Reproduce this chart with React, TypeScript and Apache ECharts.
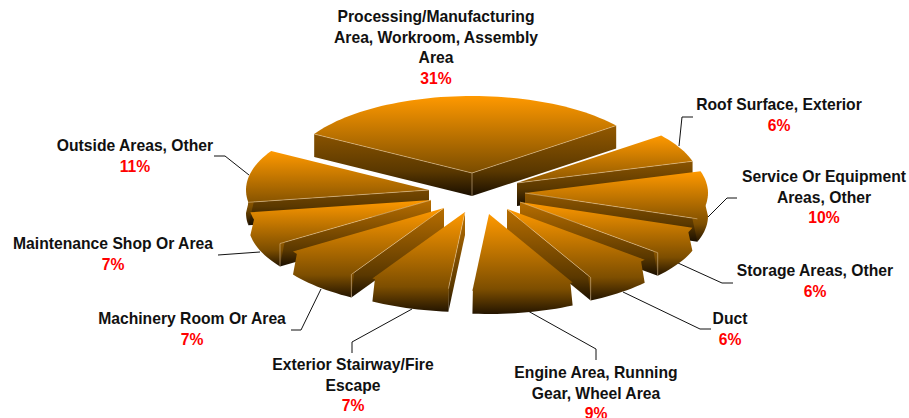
import React, { useEffect, useRef } from "react";
import * as echarts from "echarts";

const categories = [
  "Processing/Manufacturing\nArea, Workroom, Assembly\nArea",
  "Roof Surface, Exterior",
  "Service Or Equipment\nAreas, Other",
  "Storage Areas, Other",
  "Duct",
  "Engine Area, Running\nGear, Wheel Area",
  "Exterior Stairway/Fire\nEscape",
  "Machinery Room Or Area",
  "Maintenance Shop Or Area",
  "Outside Areas, Other",
];
const shares = [31, 6, 10, 6, 6, 9, 7, 7, 7, 11];

// Layout, kept apart from the data
const START_DEG = -59.6;
const RX = 183;
const RY = 77;
const DEPTH = 23;
const apexes = [
  [472, 173], [517, 183], [525, 193], [520, 202], [507, 209],
  [489, 214], [465, 212], [444, 208], [431, 200], [429, 190],
];
const drawOrder = [0, 9, 1, 2, 8, 3, 7, 4, 6, 5];
const labelAnchors = [
  [436, 16.5], [779, 104.5], [824, 176.5], [815, 270.5], [730, 318.5],
  [596, 372.5], [353, 364.5], [192, 318.5], [113, 243.5], [135, 145.5],
];
const LINE_H = 20.6;
const leaders = [
  null,
  [[693, 117], [682, 117], [679, 146]],
  [[737, 198], [727, 198], [708, 217]],
  [[733, 283], [722, 283], [678, 263]],
  [[711, 329], [700, 329], [623, 292]],
  [[596, 360], [596, 349], [528, 311]],
  [[352, 353], [352, 342], [412, 309]],
  [[291, 330], [301, 330], [321, 289]],
  [[218, 255], [260, 252]],
  [[214, 156], [225, 156], [249, 175]],
];

const FONT = '"Liberation Sans", Arial, sans-serif';
const rad = (d: number) => (d * Math.PI) / 180;
const total = shares.reduce((a, b) => a + b, 0);
const startAngles: number[] = [];
shares.reduce((acc, v, i) => {
  startAngles[i] = acc;
  return acc + (v / total) * 360;
}, START_DEG);

function grad(top: number, bottom: number, k: number) {
  const c = (r: number, g: number, b: number) =>
    `rgb(${Math.round(r * k)},${Math.round(g * k)},${Math.round(b * k)})`;
  return {
    type: "linear",
    x: 0,
    y: top,
    x2: 0,
    y2: bottom,
    global: true,
    colorStops: [
      { offset: 0, color: c(255, 153, 0) },
      { offset: 0.75, color: c(125, 78, 0) },
      { offset: 1, color: c(36, 21, 0) },
    ],
  };
}

function renderSlice(_p: any, api: any) {
  const i = api.value(0);
  const [ax, ay] = apexes[i];
  const a0 = startAngles[i];
  const a1 = a0 + (shares[i] / total) * 360;
  const pt = (a: number, dy = 0) => [ax + RX * Math.sin(rad(a)), ay - RY * Math.cos(rad(a)) + dy];
  const arc = (from: number, to: number, dy = 0) => {
    const out: number[][] = [];
    const n = Math.max(2, Math.ceil(Math.abs(to - from) / 2));
    for (let j = 0; j <= n; j++) out.push(pt(from + ((to - from) * j) / n, dy));
    return out;
  };
  const face = [[ax, ay], ...arc(a0, a1)];
  const ys: number[] = face.map((p) => p[1]);
  const top = Math.min(...ys);
  const bottom = Math.max(...ys) + DEPTH;
  const children: any[] = [];
  const norm = (a: number) => ((a % 360) + 360) % 360;
  const startFront = norm(a0) > 180;
  const endFront = norm(a1) < 180;
  const wall = (a: number) => {
    const p = pt(a);
    children.push({
      type: "polygon",
      shape: { points: [[ax, ay], p, [p[0], p[1] + DEPTH], [ax, ay + DEPTH]] },
      style: { fill: grad(top, bottom, 0.72) },
    });
  };
  if (startFront) wall(a0);
  if (endFront) wall(a1);
  const f0 = Math.max(a0, 90);
  const f1 = Math.min(a1, 270);
  if (f1 > f0) {
    const upper = arc(f0, f1).map((p) => [p[0] + (ax - p[0]) * 0.03, p[1] + (ay - p[1]) * 0.03]);
    const lower = arc(f1, f0, DEPTH);
    children.push({
      type: "polygon",
      shape: { points: [...upper, ...lower] },
      style: { fill: grad(top, bottom, 1) },
    });
  }
  children.push({ type: "polygon", shape: { points: face }, style: { fill: grad(top, bottom, 1) } });
  const rim = "rgba(240,210,165,0.5)";
  const edge = (a: number) => {
    const p = pt(a);
    children.push({
      type: "polyline",
      shape: { points: [[ax, ay], p] },
      style: { stroke: rim, lineWidth: 1, fill: "none" },
    });
    return p;
  };
  if (startFront) edge(a0);
  if (endFront) edge(a1);
  const corner = (a: number) => {
    const p = pt(a);
    children.push({
      type: "polyline",
      shape: { points: [p, [p[0], p[1] + DEPTH]] },
      style: { stroke: rim, lineWidth: 1, fill: "none" },
    });
  };
  if (i === 0) {
    children.push({
      type: "polyline",
      shape: { points: [[ax, ay], [ax, ay + DEPTH]] },
      style: { stroke: rim, lineWidth: 1, fill: "none" },
    });
  }
  if (startFront && norm(a0) > 200 && norm(a0) < 250) corner(a0);
  if (endFront && norm(a1) > 125 && norm(a1) < 160) corner(a1);
  return { type: "group", children };
}

function renderNote(_p: any, api: any) {
  const i = api.value(0);
  const [cx, y0] = labelAnchors[i];
  const lines = categories[i].split("\n");
  const children: any[] = [];
  const pts = leaders[i];
  if (pts) {
    children.push({
      type: "polyline",
      shape: { points: pts },
      style: { stroke: "#111", lineWidth: 1, fill: "none" },
    });
  }
  const text = (t: string, y: number, fill: string) => ({
    type: "text",
    style: {
      text: t,
      x: cx,
      y,
      align: "center",
      verticalAlign: "middle",
      font: `bold 15.7px ${FONT}`,
      fill,
    },
  });
  lines.forEach((l, j) => children.push(text(l, y0 + j * LINE_H, "#111111")));
  children.push(text(`${shares[i]}%`, y0 + lines.length * LINE_H, "#FF0000"));
  return { type: "group", children };
}

export default function App() {
  const ref = useRef<HTMLDivElement>(null);
  useEffect(() => {
    const chart = echarts.init(ref.current!, null, { renderer: "svg" });
    chart.setOption({
      animation: false,
      backgroundColor: "#ffffff",
      series: [
        {
          type: "custom",
          coordinateSystem: "none",
          z: 1,
          silent: true,
          clip: false,
          renderItem: renderNote,
          data: shares.map((v, i) => [i, v]),
        },
        {
          type: "custom",
          coordinateSystem: "none",
          z: 2,
          silent: true,
          clip: false,
          renderItem: renderSlice,
          data: drawOrder.map((i) => [i, shares[i]]),
        },
      ],
    });
    return () => chart.dispose();
  }, []);
  return <div ref={ref} style={{ position: "absolute", left: 0, top: 0, width: 909, height: 418 }} />;
}
